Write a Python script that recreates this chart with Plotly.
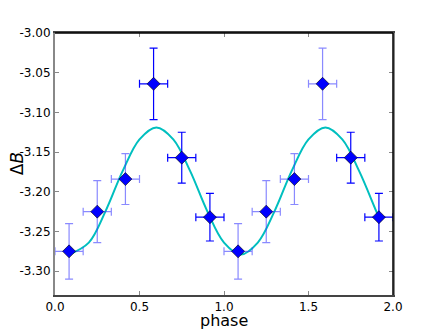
import plotly.graph_objects as go

# binned phase data (shown twice: phase and phase + 1)
phase = [0.0833, 0.25, 0.4167, 0.5833, 0.75, 0.9167,
         1.0833, 1.25, 1.4167, 1.5833, 1.75, 1.9167]
phase_err = [0.0833] * 12
delta_b = [-3.275, -3.225, -3.184, -3.064, -3.157, -3.232,
           -3.275, -3.225, -3.184, -3.064, -3.157, -3.232]
delta_b_err = [0.035, 0.039, 0.032, 0.045, 0.032, 0.030,
               0.035, 0.039, 0.032, 0.045, 0.032, 0.030]

# fitted curve
curve_x = [0.083, 0.2, 0.3, 0.4, 0.5, 0.6, 0.7, 0.8, 0.9, 1.0,
           1.1, 1.2, 1.3, 1.4, 1.5, 1.6, 1.7, 1.8, 1.9, 1.917]
curve_y = [-3.279, -3.264, -3.224, -3.174, -3.134, -3.119, -3.134, -3.174, -3.224, -3.264,
           -3.279, -3.264, -3.224, -3.174, -3.134, -3.119, -3.134, -3.174, -3.224, -3.232]

x_ticks = [0.0, 0.5, 1.0, 1.5, 2.0]
y_ticks = [-3.30, -3.25, -3.20, -3.15, -3.10, -3.05, -3.00]

DARK = {3, 4, 5, 10, 11}  # points whose error bars render darker

fig = go.Figure()
fig.add_trace(go.Scatter(
    x=curve_x, y=curve_y, mode="lines",
    line=dict(color="#00bfbf", width=2, shape="spline", smoothing=1.0),
    showlegend=False,
))
for dark in (False, True):
    idx = [i for i in range(len(phase)) if (i in DARK) == dark]
    col = "#0000ff" if dark else "rgba(60,60,255,0.6)"
    fig.add_trace(go.Scatter(
        x=[phase[i] for i in idx], y=[delta_b[i] for i in idx], mode="markers",
        marker=dict(symbol="diamond", size=10, color="#0000ff",
                    line=dict(color="black", width=0.6)),
        error_x=dict(type="data", array=[phase_err[i] for i in idx],
                     color=col, thickness=1.2, width=4),
        error_y=dict(type="data", array=[delta_b_err[i] for i in idx],
                     color=col, thickness=1.2, width=4),
        showlegend=False,
    ))

tick_font = dict(family="DejaVu Sans", size=12, color="black")
axis_common = dict(
    showgrid=False, zeroline=False, ticks="inside", ticklen=4,
    tickcolor="#888888", mirror="ticks", showline=True, automargin=False,
    tickfont=tick_font,
)
fig.update_xaxes(
    range=[0, 2], tickvals=x_ticks, ticktext=[f"{v:.1f}" for v in x_ticks],
    linecolor="#444444", linewidth=1.5,
    **axis_common,
)
fig.update_yaxes(
    range=[-3.33, -3.00], tickvals=y_ticks, ticktext=[f"{v:.2f}" for v in y_ticks],
    linecolor="#888888", linewidth=2,
    **axis_common,
)
# axis titles
fig.add_annotation(text="phase", xref="paper", yref="paper", x=0.5, y=-0.052,
                   yanchor="top", showarrow=False,
                   font=dict(family="DejaVu Sans", size=16, color="black"))
fig.add_annotation(text="Δ<i>B</i>", xref="paper", yref="paper", x=-0.112, y=0.5,
                   xanchor="center", textangle=-90, showarrow=False,
                   font=dict(family="DejaVu Sans", size=17, color="black"))
# black top and right frame lines
fig.add_shape(type="line", xref="paper", yref="paper", x0=0, x1=1, y0=1, y1=1,
              line=dict(color="black", width=1.5))
fig.add_shape(type="line", xref="paper", yref="paper", x0=1, x1=1, y0=0, y1=1,
              line=dict(color="black", width=1.5))

# page body has an 8px margin, so the figure is a bit smaller than the window
fig.update_layout(
    width=428, height=321,
    margin=dict(l=47, r=43, t=25, b=34),
    plot_bgcolor="white", paper_bgcolor="white",
)
fig.write_html("out.html")
